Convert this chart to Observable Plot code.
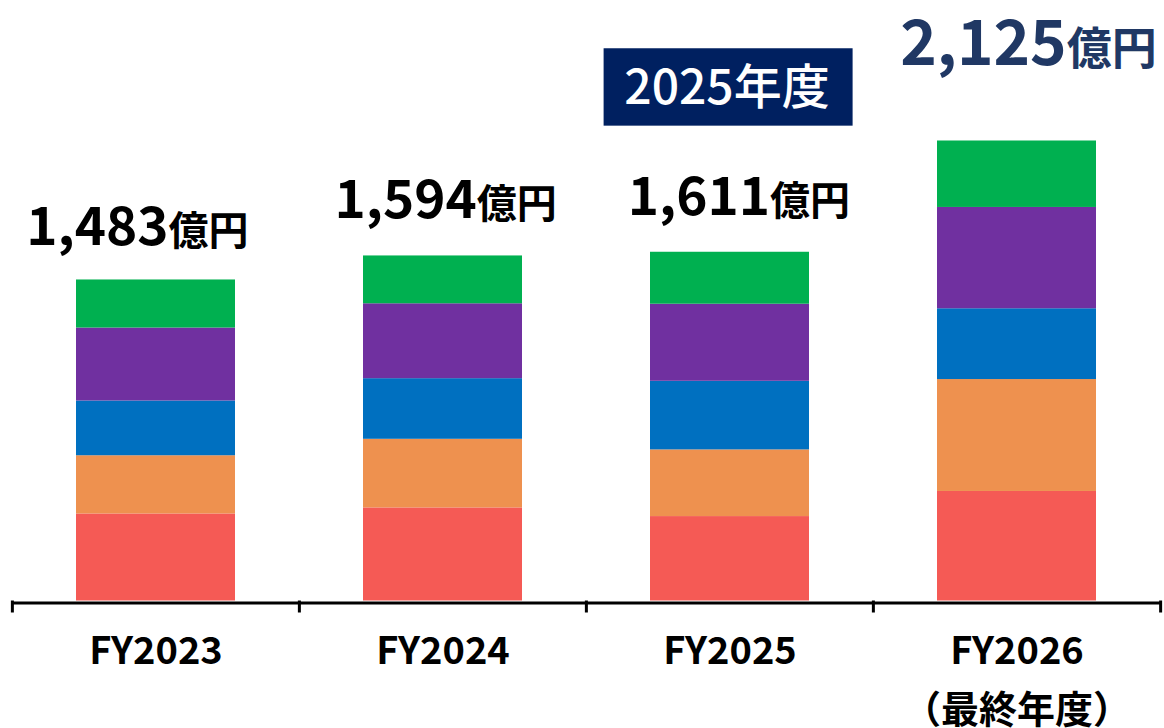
<!DOCTYPE html>
<html><head><meta charset="utf-8">
<script src="https://cdn.jsdelivr.net/npm/d3@7"></script>
<script src="https://cdn.jsdelivr.net/npm/@observablehq/plot@0.6"></script>
<style>
html,body{margin:0;padding:0;background:#fff;}
#chart svg{display:block;}
</style></head><body><div id="chart"></div>
<script>
// ---- data ----
const years = ["FY2023", "FY2024", "FY2025", "FY2026"];
const xLabels = ["FY2023", "FY2024", "FY2025", "FY2026\n（最終年度）"];
const segments = ["A", "B", "C", "D", "E"]; // bottom -> top
const segA = [402, 430, 390, 506];
const segB = [269, 317, 308, 517];
const segC = [253, 280, 317, 327];
const segD = [337, 346, 356, 468];
const segE = [222, 221, 240, 307];
const totals = [1483, 1594, 1611, 2125];
const unitLabel = "億円";
const highlightYear = "FY2025";
const highlightLabel = "2025年度";

// ---- build tables ----
const series = [segA, segB, segC, segD, segE];
const rows = [];
segments.forEach((s, j) => years.forEach((yr, i) => rows.push({year: yr, segment: s, value: series[j][i]})));
const totalRows = years.map((yr, i) => ({year: yr, total: totals[i]}));
const hlRow = totalRows.find(d => d.year === highlightYear);

// ---- style / layout ----
const W = 1164, H = 728;
const mL = 12, mR = 3, mT = 0, mB = 127.5;
const colors = ["#f55a55", "#ee914f", "#0070c0", "#7030a0", "#00b050"];
const step = (W - mL - mR) / years.length;
const labelSplit = [12.5, 33.7, 40, 49.7];
const labelRise = [-35, -38, -37, -76];
const numColor = ["#000", "#000", "#000", "#203864"];
const numSize = [53, 53, 53, 62];
const unitSize = [40, 40, 40, 45];
const font = "'Noto Sans CJK JP', 'Noto Sans', sans-serif";
const fmt = d3.format(",");

const labelMarks = totalRows.flatMap((r, i) => [
  Plot.text([r], {x: "year", y: "total", text: d => fmt(d.total), textAnchor: "end", lineAnchor: "bottom",
    dx: labelSplit[i], dy: labelRise[i], fontSize: numSize[i], fontWeight: "bold", fill: numColor[i]}),
  Plot.text([r], {x: "year", y: "total", text: () => unitLabel, textAnchor: "start", lineAnchor: "bottom",
    dx: labelSplit[i], dy: labelRise[i], fontSize: unitSize[i], fontWeight: "bold", fill: numColor[i]})
]);

const chart = Plot.plot({
  width: W, height: H,
  marginLeft: mL, marginRight: mR, marginTop: mT, marginBottom: mB,
  style: {fontFamily: font, background: "#fff", overflow: "visible"},
  x: {type: "band", domain: years, paddingInner: 0.445, paddingOuter: 0.2225, align: 0.5, label: null},
  y: {domain: [0, 2774], axis: null, label: null},
  color: {domain: segments, range: colors},
  marks: [
    Plot.barY(rows, {x: "year", y: "value", fill: "segment"}),
    Plot.ruleY([0], {strokeWidth: 3, dy: 2, stroke: "#000"}),
    Plot.ruleX(years, {x: d => d, y1: () => 0, y2: () => 0, insetBottom: -12, dx: -step / 2, strokeWidth: 3, stroke: "#000"}),
    Plot.ruleX([years[years.length - 1]], {x: d => d, y1: () => 0, y2: () => 0, insetBottom: -12, dx: step / 2, strokeWidth: 3, stroke: "#000"}),
    Plot.axisX({tickSize: 0, tickPadding: 21.5, fontSize: 38, fontWeight: "bold", fill: "#000", label: null,
      tickFormat: d => xLabels[years.indexOf(d)], lineHeight: 1.55}),
    Plot.barY([hlRow], {x: "year", y1: "total", y2: "total", fill: "#002060",
      insetTop: -203.5, insetBottom: 126.1, insetLeft: -46.4, insetRight: -43.6}),
    Plot.text([hlRow], {x: "year", y: "total", text: () => highlightLabel, fill: "#fff", fontSize: 48,
      fontWeight: 500, lineAnchor: "bottom", dx: -3, dy: -148}),
    ...labelMarks
  ]
});
document.getElementById("chart").appendChild(chart);
</script>
</body></html>
